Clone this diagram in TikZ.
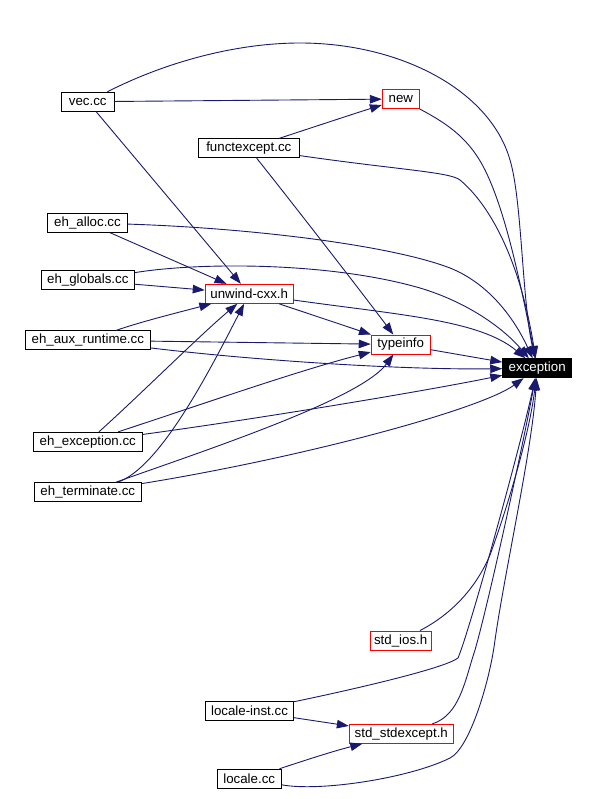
\documentclass[tikz,border=0pt]{standalone}
\usepackage{fontspec}
\setmainfont{Liberation Sans}
\usetikzlibrary{arrows.meta}
\definecolor{edgeblue}{HTML}{191970}
\begin{document}
\begin{tikzpicture}[x=1pt,y=-1pt,
 box/.style={draw=black, line width=0.9pt, minimum height=19pt, inner sep=0pt, font=\fontsize{13.3}{16}\selectfont},
 redbox/.style={box, draw=red},
 edge/.style={draw=edgeblue, line width=0.9pt, -{Triangle[length=12pt,width=8.5pt]}}]
\useasboundingbox (0,0) rectangle (596,799);
\node[box,minimum width=53pt] (vec) at (87.8,101.7) {vec.cc};
\node[redbox,minimum width=37pt] (new) at (400.8,99) {new};
\node[box,minimum width=101pt] (funct) at (248.8,148.3) {functexcept.cc};
\node[box,minimum width=80pt] (alloc) at (87.5,222.8) {eh\_alloc.cc};
\node[box,minimum width=93pt] (glob) at (87.8,280.3) {eh\_globals.cc};
\node[redbox,minimum width=88pt] (unwind) at (249.2,293.8) {unwind-cxx.h};
\node[box,minimum width=125pt] (aux) at (87.8,340.3) {eh\_aux\_runtime.cc};
\node[redbox,minimum width=59pt] (typeinfo) at (400.7,344.5) {typeinfo};
\node[box,fill=black,text=white,minimum width=69pt] (exc) at (537.2,368.2) {exception};
\node[box,minimum width=109pt] (ehexc) at (87.8,441.8) {eh\_exception.cc};
\node[box,minimum width=107pt] (term) at (87.8,492.3) {eh\_terminate.cc};
\node[redbox,minimum width=61pt] (ios) at (400.7,640.5) {std\_ios.h};
\node[box,minimum width=88pt] (linst) at (249.5,711) {locale-inst.cc};
\node[redbox,minimum width=104pt] (stdexc) at (401.3,733.8) {std\_stdexcept.h};
\node[box,minimum width=64pt] (locale) at (249.2,778.7) {locale.cc};

\draw[edge] (vec) .. controls (170,60) and (240,43) .. (300,43) .. controls (400,43) and (490,90) .. (510,160) .. controls (522,200) and (522,300) .. (exc);
\draw[edge] (vec) -- (new);
\draw[edge] (vec) -- (unwind);
\draw[edge] (new) .. controls (450,125) and (470,140) .. (485,170) .. controls (505,210) and (520,280) .. (exc);
\draw[edge] (funct) .. controls (320,125) and (350,115) .. (new);
\draw[edge] (funct) .. controls (400,170) and (450,172) .. (460,180) .. controls (490,205) and (520,260) .. (exc);
\draw[edge] (funct) .. controls (290,200) and (360,290) .. (typeinfo);
\draw[edge] (alloc) .. controls (250,228) and (390,245) .. (450,268) .. controls (490,284) and (515,320) .. (exc);
\draw[edge] (alloc) -- (unwind);
\draw[edge] (glob) .. controls (200,262) and (330,262) .. (420,288) .. controls (470,303) and (505,330) .. (exc);
\draw[edge] (glob) -- (unwind);
\draw[edge] (unwind) .. controls (400,315) and (480,320) .. (exc);
\draw[edge] (unwind) -- (typeinfo);
\draw[edge] (aux) .. controls (140,322) and (180,312) .. (unwind);
\draw[edge] (aux) -- (typeinfo);
\draw[edge] (aux) .. controls (250,360) and (400,370) .. (exc);
\draw[edge] (typeinfo) -- (exc);
\draw[edge] (ehexc) .. controls (140,395) and (200,335) .. (unwind);
\draw[edge] (ehexc) .. controls (200,405) and (300,370) .. (typeinfo);
\draw[edge] (ehexc) .. controls (250,420) and (420,392) .. (exc);
\draw[edge] (term) .. controls (160,468) and (210,370) .. (unwind);
\draw[edge] (term) .. controls (200,452) and (360,400) .. (typeinfo);
\draw[edge] (term) .. controls (300,458) and (480,410) .. (exc);
\draw[edge] (ios) .. controls (450,615) and (475,590) .. (490,555) .. controls (510,500) and (530,430) .. (exc);
\draw[edge] (linst) .. controls (360,688) and (445,668) .. (458,658) .. controls (470,630) and (522,440) .. (exc);
\draw[edge] (linst) -- (stdexc);
\draw[edge] (stdexc) .. controls (460,715) and (465,680) .. (475,650) .. controls (488,605) and (522,450) .. (exc);
\draw[edge] (locale) .. controls (320,792) and (410,778) .. (450,758) .. controls (470,748) and (490,680) .. (495,640) .. controls (505,570) and (532,450) .. (exc);
\draw[edge] (locale) .. controls (300,762) and (330,752) .. (stdexc);
\end{tikzpicture}
\end{document}
